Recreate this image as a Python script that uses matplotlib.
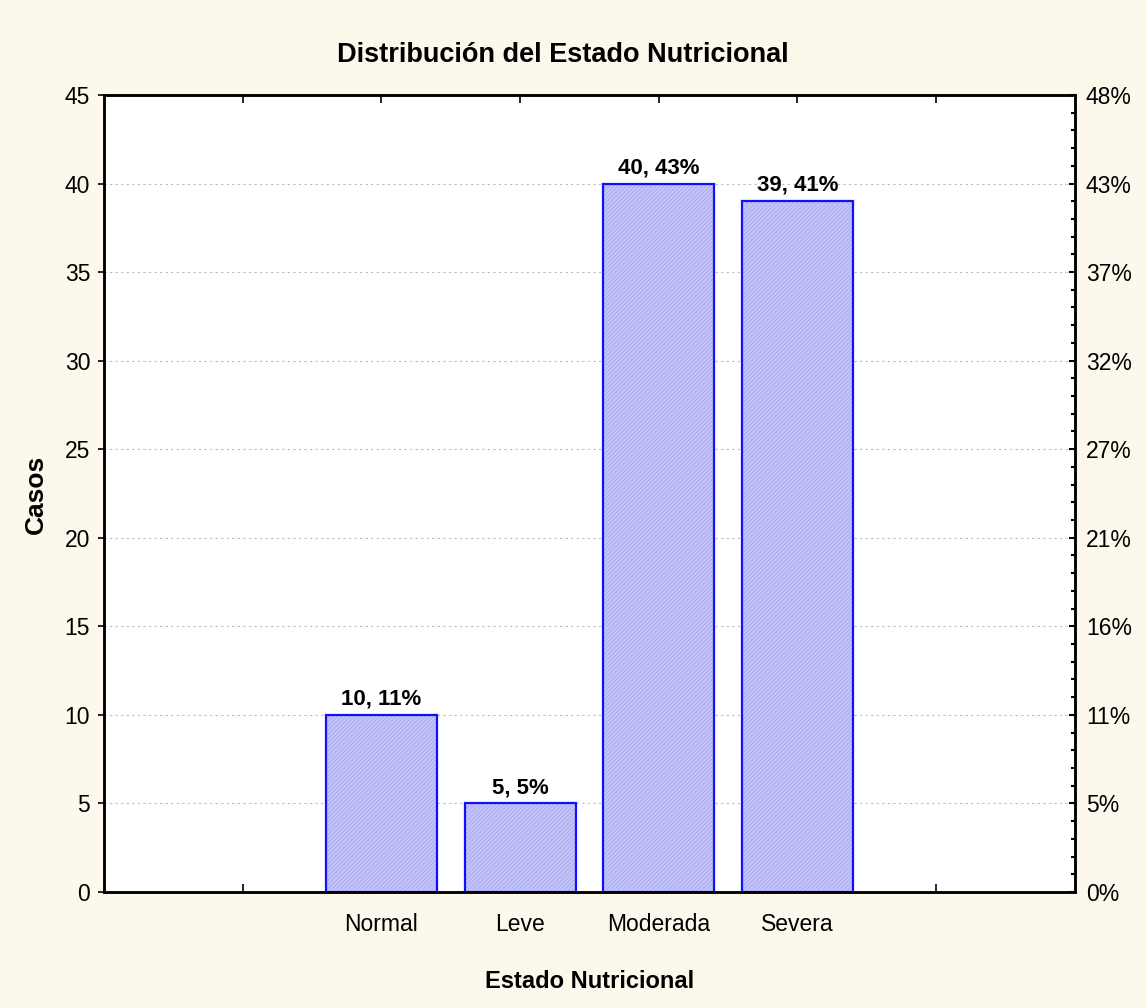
import numpy as np
import matplotlib.pyplot as plt
from matplotlib.ticker import MultipleLocator, FixedLocator

#### data ####
categorias = ["", "Normal", "Leve", "Moderada", "Severa", ""]
casos      = [10, 5, 40, 39]
etiquetas  = ["10, 11%", "5, 5%", "40, 43%", "39, 41%"]
pct_labels = ["0%", "5%", "11%", "16%", "21%", "27%", "32%", "37%", "43%", "48%"]

plt.rcParams['font.family'] = ['Liberation Sans', 'DejaVu Sans']

bg = '#fdf8ec'
fig = plt.figure(figsize=(11.47, 10.08), dpi=100, facecolor=bg)
ax = fig.add_axes([0.0907, 0.1151, 0.8463, 0.7907])
ax.set_facecolor('white')

xpos = np.arange(2, 2 + len(casos))
# hatched fill then blue outline
ax.bar(xpos, casos, width=0.8, color='#c8c8fc', edgecolor='#b0b0f0',
       hatch='////////', linewidth=0, zorder=2)
ax.bar(xpos, casos, width=0.8, fill=False, edgecolor='#1010ff',
       linewidth=1.6, zorder=3)

for x, v, t in zip(xpos, casos, etiquetas):
    ax.text(x, v + 0.3, t, ha='center', va='bottom', fontsize=16,
            fontweight='bold', zorder=4)

ax.set_xlim(0, 7)
ax.set_ylim(0, 45)
ax.xaxis.set_major_locator(FixedLocator(range(1, 7)))
ax.set_xticklabels(categorias, fontsize=16.5)
ax.yaxis.set_major_locator(MultipleLocator(5))
ax.tick_params(axis='x', direction='in', length=6, width=1.2, top=True, pad=15)
ax.tick_params(axis='y', direction='out', length=4, width=1.2, labelsize=16.5, pad=6)

for y in range(5, 45, 5):
    ax.axhline(y, color='#bbbbbb', lw=0.8, ls=(0, (2, 3)), zorder=1)

for s in ax.spines.values():
    s.set_linewidth(1.8)

ax2 = ax.twinx()
ax2.set_ylim(0, 45)
ax2.yaxis.set_major_locator(FixedLocator(range(0, 46, 5)))
ax2.yaxis.set_minor_locator(MultipleLocator(1))
ax2.set_yticklabels(pct_labels, fontsize=16.5)
ax2.tick_params(axis='y', which='both', direction='in', width=1.5, pad=8)
ax2.tick_params(axis='y', which='major', length=4)
ax2.tick_params(axis='y', which='minor', length=3)
for s in ax2.spines.values():
    s.set_linewidth(1.8)

fig.text(0.491, 0.945, "Distribución del Estado Nutricional", ha='center', va='center',
         fontsize=19.5, fontweight='bold')
fig.text(0.031, 0.51, "Casos", ha='center', va='center', rotation=90,
         fontsize=19, fontweight='bold')
fig.text(0.514, 0.026, "Estado Nutricional", ha='center', va='center',
         fontsize=17, fontweight='bold')

plt.savefig("out.png", dpi=100, facecolor=bg)
